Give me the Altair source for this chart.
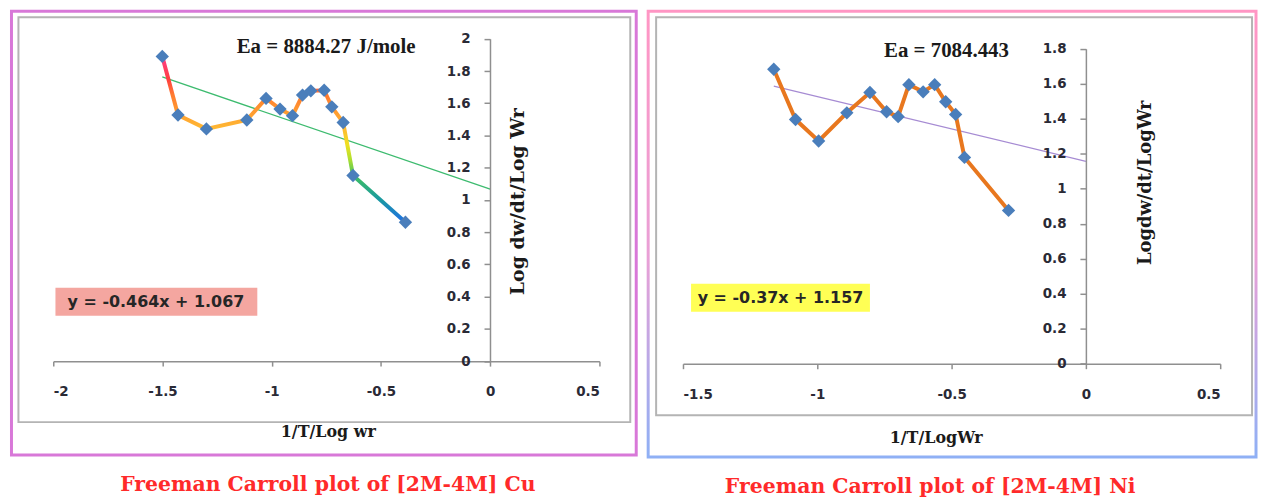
import altair as alt
import pandas as pd

# ---------------- data ----------------
cu_x = [-1.501, -1.429, -1.299, -1.114, -1.026, -0.962, -0.905, -0.859, -0.821, -0.760, -0.725, -0.673, -0.628, -0.388]
cu_y = [1.891, 1.527, 1.441, 1.496, 1.630, 1.564, 1.523, 1.651, 1.677, 1.681, 1.578, 1.481, 1.152, 0.862]
cu_slope, cu_intercept = -0.464, 1.067

ni_x = [-1.162, -1.081, -0.995, -0.890, -0.804, -0.742, -0.699, -0.659, -0.606, -0.563, -0.522, -0.485, -0.452, -0.288]
ni_y = [1.683, 1.396, 1.273, 1.434, 1.550, 1.440, 1.412, 1.595, 1.554, 1.595, 1.497, 1.425, 1.179, 0.876]
ni_slope, ni_intercept = -0.37, 1.157

cu_xticks = [-2, -1.5, -1, -0.5, 0, 0.5]
cu_yticks = [0, 0.2, 0.4, 0.6, 0.8, 1, 1.2, 1.4, 1.6, 1.8, 2]
ni_xticks = [-1.5, -1, -0.5, 0, 0.5]
ni_yticks = [0, 0.2, 0.4, 0.6, 0.8, 1, 1.2, 1.4, 1.6, 1.8]

cu_ea_text = "Ea = 8884.27 J/mole"
ni_ea_text = "Ea = 7084.443"
cu_eq_text = "y = -0.464x + 1.067"
ni_eq_text = "y = -0.37x + 1.157"
cu_title = "Freeman Carroll plot of [2M-4M] Cu"
ni_title = "Freeman Carroll plot of [2M-4M] Ni"
cu_xtitle = "1/T/Log wr"
ni_xtitle = "1/T/LogWr"
cu_ytitle = "Log dw/dt/Log Wr"
ni_ytitle = "Logdw/dt/LogWr"

SERIF = "DejaVu Serif"
TIMES = "Liberation Serif"
SANS = "DejaVu Sans"
AXIS_GRAY = "#8f8f8f"
LABEL_COLOR = "#2a2a36"


def vgrad(stops):
    return {"gradient": "linear", "x1": 0, "x2": 0, "y1": 0, "y2": 1,
            "stops": [{"offset": o, "color": c} for o, c in stops]}


cu_gradient = vgrad([
    (0.0, "#ff3d8b"), (0.14, "#ff4040"), (0.23, "#ff7a30"), (0.33, "#ff9a30"),
    (0.43, "#ffb733"), (0.53, "#f0e020"), (0.62, "#b0e030"), (0.72, "#40c060"),
    (0.86, "#1a9aa0"), (1.0, "#1e6ee6"),
])
cu_frame_color = vgrad([(0, "#d878d8"), (0.85, "#d878d8"), (1, "#d878d8")])
ni_frame_color = vgrad([(0, "#ff96c4"), (0.55, "#e9a0d6"), (1, "#8fb0f5")])


def panel(xs, ys, slope, intercept, xdom, xrange, ydom, yrange, xticks, yticks,
          view_w, view_h, yaxis_off, xaxis_off, xtitle, xtitle_pos, ytitle, ytitle_pos,
          ytitle_size, line_stroke, trend_color, ea_text, ea_pos, eq_text, eq_pos, eq_box,
          eq_fill, frame, outer_stroke, title, title_dx):
    pts = pd.DataFrame({"x": xs, "y": ys, "i": list(range(len(xs)))})
    tx = [min(xs), 0.0]
    trend = pd.DataFrame({"x": tx, "y": [slope * v + intercept for v in tx]})

    common = dict(labelExpr="replace(format(datum.value, '~g'), '\u2212', '-')", grid=False, zindex=1,
                  labelFont=SANS, labelFontSize=13.5, labelFontWeight="bold", labelColor=LABEL_COLOR,
                  domainColor=AXIS_GRAY, domainWidth=1.5, tickColor=AXIS_GRAY, tickWidth=1.5,
                  titleFont=SERIF, titleFontWeight="bold", titleColor="#1a1a1a",
                  titleAlign="center", titleBaseline="middle")
    xscale = alt.Scale(domain=xdom, range=xrange, nice=False, zero=False)
    yscale = alt.Scale(domain=ydom, range=yrange, nice=False, zero=False)
    xaxis = alt.Axis(values=xticks, orient="bottom", offset=xaxis_off, tickSize=5, labelPadding=19,
                     title=xtitle, titleX=xtitle_pos[0], titleY=xtitle_pos[1], titleFontSize=16,
                     **common)
    yaxis = alt.Axis(values=yticks, orient="left", offset=yaxis_off, tickSize=6, labelPadding=14,
                     title=ytitle, titleX=ytitle_pos[0], titleY=ytitle_pos[1], titleAngle=270,
                     titleFontSize=ytitle_size, **common)
    X = alt.X("x:Q", scale=xscale, axis=xaxis)
    Y = alt.Y("y:Q", scale=yscale, axis=yaxis)

    one = pd.DataFrame({"a": [0]})
    outer_layer = alt.Chart(one).mark_rect(
        fill="white", stroke=outer_stroke, strokeWidth=3
    ).encode(x=alt.value(0), x2=alt.value(view_w), y=alt.value(0), y2=alt.value(view_h))
    frame_layer = alt.Chart(one).mark_rect(
        fill=None, stroke="#b4b4b4", strokeWidth=2
    ).encode(x=alt.value(frame[0]), x2=alt.value(frame[1]),
             y=alt.value(frame[2]), y2=alt.value(frame[3]))

    box = pd.DataFrame({"x": [eq_box[0]], "x2": [eq_box[1]], "y": [eq_box[2]], "y2": [eq_box[3]]})
    box_layer = alt.Chart(box).mark_rect(fill=eq_fill).encode(
        x=X, x2="x2:Q", y=Y, y2="y2:Q")
    eq_layer = alt.Chart(pd.DataFrame({"x": [eq_pos[0]], "y": [eq_pos[1]], "t": [eq_text]})).mark_text(
        font=SANS, fontSize=16, fontWeight="bold", color="#262626", align="center", baseline="middle"
    ).encode(x=X, y=Y, text="t:N")
    ea_layer = alt.Chart(pd.DataFrame({"x": [ea_pos[0]], "y": [ea_pos[1]], "t": [ea_text]})).mark_text(
        font=TIMES, fontSize=21, fontWeight="bold", color="#1a1a1a", align="center", baseline="middle"
    ).encode(x=X, y=Y, text="t:N")

    trend_layer = alt.Chart(trend).mark_line(color=trend_color, strokeWidth=1.3).encode(x=X, y=Y)
    line_layer = alt.Chart(pts).mark_line(stroke=line_stroke, strokeWidth=4).encode(
        x=X, y=Y, order="i:Q")
    pt_layer = alt.Chart(pts).mark_point(shape="diamond", filled=True, size=180, color="#4a7ebb",
                                         opacity=1).encode(x=X, y=Y)

    return alt.layer(outer_layer, frame_layer, box_layer, eq_layer, ea_layer,
                     trend_layer, line_layer, pt_layer).properties(
        width=view_w, height=view_h,
        title=alt.TitleParams(title, orient="bottom", anchor="middle", color="#ff2a2a", font=SERIF,
                              fontSize=20.5, fontWeight="bold", offset=19, dx=title_dx),
    )


left = panel(
    cu_x, cu_y, cu_slope, cu_intercept,
    xdom=[-2, 0.5], xrange=[42, 591], ydom=[0, 2], yrange=[351.7, 27.7],
    xticks=cu_xticks, yticks=cu_yticks, view_w=628, view_h=446,
    yaxis_off=-481, xaxis_off=-94.3,
    xtitle=cu_xtitle, xtitle_pos=(318, 71), ytitle=cu_ytitle, ytitle_pos=(28, 191), ytitle_size=19,
    line_stroke=cu_gradient, trend_color="#3dbb6f",
    ea_text=cu_ea_text, ea_pos=(-0.751, 1.949),
    eq_text=cu_eq_text, eq_pos=(-1.530, 0.369), eq_box=(-1.990, -1.066, 0.282, 0.455),
    eq_fill="#f4a6a0", frame=(7, 622, 6, 413), outer_stroke=cu_frame_color,
    title=cu_title, title_dx=4,
)

right = panel(
    ni_x, ni_y, ni_slope, ni_intercept,
    xdom=[-1.5, 0.5], xrange=[35, 575], ydom=[0, 1.8], yrange=[354.3, 37.7],
    xticks=ni_xticks, yticks=ni_yticks, view_w=611, view_h=448,
    yaxis_off=-440, xaxis_off=-93.7,
    xtitle=ni_xtitle, xtitle_pos=(289, 74), ytitle=ni_ytitle, ytitle_pos=(60, 172), ytitle_size=18,
    line_stroke="#e8771e", trend_color="#a68bd3",
    ea_text=ni_ea_text, ea_pos=(-0.519, 1.785),
    eq_text=ni_eq_text, eq_pos=(-1.137, 0.377), eq_box=(-1.470, -0.804, 0.297, 0.457),
    eq_fill="#ffff55", frame=(8, 607, 6, 406), outer_stroke=ni_frame_color,
    title=ni_title, title_dx=-22,
)

chart = alt.hconcat(left, right, spacing=8).properties(
    padding={"left": 1.5, "top": 0, "right": 0, "bottom": 0}
).configure_view(stroke=None)

chart.save("out.html", embed_options={"renderer": "svg", "actions": False})
